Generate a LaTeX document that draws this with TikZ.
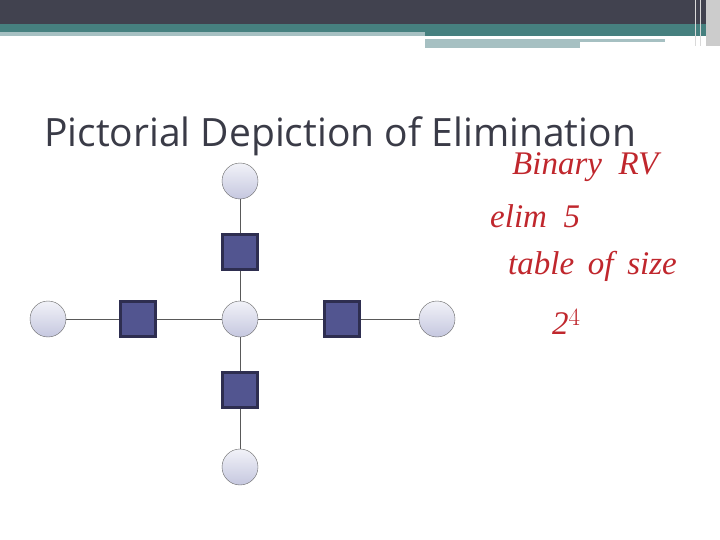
\documentclass[tikz,border=0pt]{standalone}
\usepackage{fontspec}
\setmainfont{Open Sans}
\newfontfamily\handfont{Liberation Serif}
\definecolor{banner}{HTML}{41424F}
\definecolor{teal}{HTML}{46807F}
\definecolor{pale}{HTML}{A6C0C2}
\definecolor{varfill}{HTML}{D2D4E8}
\definecolor{facfill}{HTML}{525590}
\definecolor{facline}{HTML}{2E2E50}
\definecolor{ink}{HTML}{C0272D}
\tikzset{
  var/.style={circle,draw=black!60,minimum size=36pt,inner sep=0pt,
    top color=white!70!varfill,bottom color=varfill!90!facfill},
  fac/.style={rectangle,draw=facline,line width=2.5pt,fill=facfill,minimum size=35pt,inner sep=0pt},
  hand/.style={text=ink,font=\handfont\itshape\fontsize{33}{36}\selectfont,anchor=west,inner sep=0pt},
  edge/.style={black!65,line width=1pt}
}
\begin{document}
\begin{tikzpicture}[x=1pt,y=-1pt]
    \useasboundingbox (0,0) rectangle (720,540);
    \fill[white] (0,0) rectangle (720,540);
    % banner
    \fill[banner] (0,0) rectangle (720,24);
    \fill[teal] (0,24) rectangle (720,32);
    \fill[pale] (0,32) rectangle (425,36);
    \fill[teal] (425,32) rectangle (720,36);
    \fill[pale] (425,39) rectangle (665,42);
    \fill[pale] (425,42) rectangle (580,48);
    \fill[gray!40] (706,0) rectangle (720,46);
    \draw[white!70!gray] (695,0) -- (695,46) (700,0) -- (700,46);
    % title
    \node[anchor=base west,text=banner!90!black,font=\fontsize{39}{44}\selectfont,inner sep=0pt] (title) at (44,147) {Pictorial Depiction of Elimination};
    % graph
    \node[var] (c) at (240,319) {};
    \node[var] (t) at (240,181) {};
    \node[var] (l) at (48,319) {};
    \node[var] (r) at (437,319) {};
    \node[var] (b) at (240,467) {};
    \node[fac] (ft) at (240,252) {};
    \node[fac] (fl) at (138,319) {};
    \node[fac] (fr) at (342,319) {};
    \node[fac] (fb) at (240,390) {};
    \draw[edge] (t) -- (ft) -- (c) -- (fb) -- (b);
    \draw[edge] (l) -- (fl) -- (c) -- (fr) -- (r);
    % notes
    \node[hand] (n1) at (512,167) {Binary \ RV};
    \node[hand] (n2) at (490,216) {elim \ 5};
    \node[hand] (n3) at (508,266) {table \,of \,size};
    \node[hand] (n4) at (552,322) {2$^{4}$};
\end{tikzpicture}
\end{document}
